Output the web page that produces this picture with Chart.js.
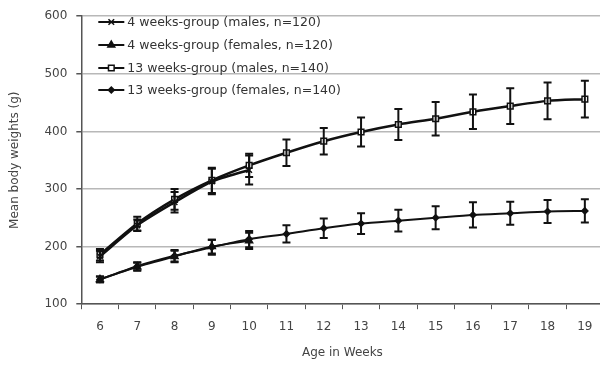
<!DOCTYPE html>
<html><head><meta charset="utf-8">
<script src="https://cdn.jsdelivr.net/npm/chart.js@4"></script>
<style>
html,body{margin:0;padding:0;background:#fff;overflow:hidden;width:600px;height:367px;}
#wrap{width:609px;height:367px;position:relative;}
</style></head>
<body><div id="wrap"><canvas id="c"></canvas></div>
<script>
const weeks = ['6','7','8','9','10','11','12','13','14','15','16','17','18','19'];
const seriesNames = ['4 weeks-group (males, n=120)','4 weeks-group (females, n=120)','13 weeks-group (males, n=140)','13 weeks-group (females, n=140)'];
const m4 = [183, 237, 277, 313, 333, null, null, null, null, null, null, null, null, null];
const m4sd = [10, 10, 18, 22, 25, null, null, null, null, null, null, null, null, null];
const f4 = [143, 165, 183, 200, 210, null, null, null, null, null, null, null, null, null];
const f4sd = [5, 7, 10, 12, 14, null, null, null, null, null, null, null, null, null];
const m13 = [186, 240, 282, 315, 341, 363, 383, 399, 412, 422, 434, 444, 453, 456];
const m13sd = [10, 12, 18, 22, 20, 23, 23, 25, 27, 29, 30, 31, 32, 32];
const f13 = [143, 166, 184, 199, 213, 222, 232, 240, 245, 250, 255, 258, 261, 262];
const f13sd = [5, 7, 10, 13, 14, 15, 17, 18, 19, 20, 22, 20, 20, 20];
const yTicks = [100, 200, 300, 400, 500, 600];

const sds = [m4sd, f4sd, m13sd, f13sd];
const styles = [
  {pointStyle:'crossRot', radius:4, fill:'#111'},
  {pointStyle:'triangle', radius:4, fill:'#111'},
  {pointStyle:'rect', radius:4, fill:'#fff'},
  {pointStyle:'rectRot', radius:3, fill:'#111'}
];
const vals = [m4, f4, m13, f13];
const FONT = '"DejaVu Sans", sans-serif';

const errorBars = {
  id:'errorBars',
  afterDatasetsDraw(chart){
    const ctx = chart.ctx, y = chart.scales.y;
    ctx.save();
    ctx.strokeStyle = '#111';
    ctx.lineWidth = 2;
    chart.data.datasets.forEach((ds, di) => {
      const meta = chart.getDatasetMeta(di);
      ds.data.forEach((v, i) => {
        if (v === null) return;
        const sd = sds[di][i];
        const x = meta.data[i].x;
        const t = y.getPixelForValue(v + sd), b = y.getPixelForValue(v - sd);
        ctx.beginPath();
        ctx.moveTo(x, t); ctx.lineTo(x, b);
        ctx.moveTo(x-4, t); ctx.lineTo(x+4, t);
        ctx.moveTo(x-4, b); ctx.lineTo(x+4, b);
        ctx.stroke();
      });
    });
    ctx.restore();
  }
};

const legendPlugin = {
  id:'innerLegend',
  afterDraw(chart){
    const ctx = chart.ctx;
    const x0 = chart.chartArea.left + 17;
    const rows = [22, 45, 68, 90];
    ctx.save();
    ctx.font = '12.5px ' + FONT;
    ctx.textBaseline = 'middle';
    seriesNames.forEach((name, i) => {
      const yy = rows[i];
      ctx.strokeStyle = '#111';
      ctx.lineWidth = 2;
      ctx.beginPath(); ctx.moveTo(x0, yy); ctx.lineTo(x0+26, yy); ctx.stroke();
      const st = styles[i];
      ctx.fillStyle = st.fill;
      ctx.lineWidth = 1.5;
      Chart.helpers.drawPoint(ctx, {pointStyle: st.pointStyle, radius: st.radius, borderWidth: 1.5, rotation:0}, x0+13, yy);
      ctx.fillStyle = '#333';
      ctx.fillText(name, x0 + 29, yy + 1);
    });
    ctx.restore();
  }
};

new Chart(document.getElementById('c'), {
  type:'line',
  data:{
    labels: weeks,
    datasets: vals.map((d, i) => ({
      label: seriesNames[i],
      data: d,
      borderColor:'#111',
      borderWidth: i % 2 === 0 ? 2.5 : 2,
      backgroundColor: styles[i].fill,
      pointBackgroundColor: styles[i].fill,
      pointBorderColor:'#111',
      pointBorderWidth:1.5,
      pointStyle: styles[i].pointStyle,
      pointRadius: styles[i].radius,
      tension:0.25,
      spanGaps:false
    }))
  },
  options:{
    responsive:true,
    maintainAspectRatio:false,
    animation:false,
    layout:{padding:{top:12, right:0, left:4, bottom:3}},
    plugins:{legend:{display:false}, tooltip:{enabled:false}},
    scales:{
      x:{
        offset:true,
        grid:{display:true, drawOnChartArea:false, offset:true, tickLength:5, tickColor:'#555'},
        border:{color:'#555', width:1.5},
        ticks:{color:'#444', font:{family:FONT, size:12}, padding:10},
        title:{display:true, text:'Age in Weeks', color:'#444', font:{family:FONT, size:12}, padding:{top:2}}
      },
      y:{
        min:100, max:600,
        afterBuildTicks(scale){ scale.ticks = yTicks.map(v => ({value:v})); },
        grid:{color:'#b8b8b8', lineWidth:1.5, tickLength:5, tickColor:'#555'},
        border:{color:'#555', width:1.5},
        ticks:{color:'#444', font:{family:FONT, size:12}, padding:9},
        title:{display:true, text:'Mean body weights (g)', color:'#444', font:{family:FONT, size:12}, padding:{bottom:13}}
      }
    }
  },
  plugins:[errorBars, legendPlugin]
});
</script>
</body></html>
